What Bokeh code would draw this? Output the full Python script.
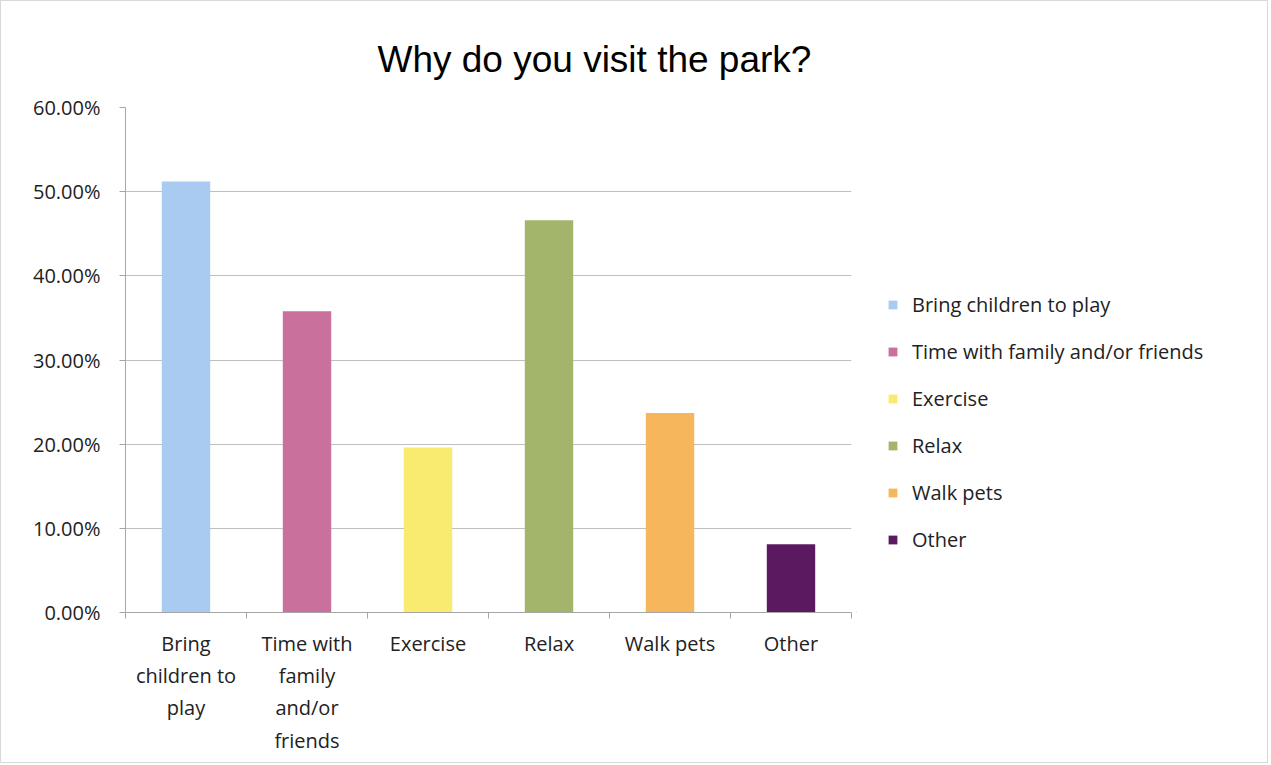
import numpy as np
from bokeh.plotting import figure
from bokeh.layouts import row
from bokeh.models import (ColumnDataSource, Legend, LegendItem, FixedTicker,
                          NumeralTickFormatter, Range1d)
from bokeh.embed import file_html
from bokeh.resources import INLINE

categories = ["Bring children to play", "Time with family and/or friends",
              "Exercise", "Relax", "Walk pets", "Other"]
axis_labels = ["Bring\nchildren to\nplay", "Time with\nfamily\nand/or\nfriends",
               "Exercise", "Relax", "Walk pets", "Other"]
values = [0.512, 0.358, 0.196, 0.466, 0.237, 0.081]
colors = ["#A9CBF1", "#C9719C", "#F8EB6F", "#A3B56B", "#F6B75C", "#5B1A60"]
y_ticks = [0.0, 0.1, 0.2, 0.3, 0.4, 0.5, 0.6]

FONT = "Open Sans"
TXT = "#222222"

n = len(categories)
x = np.arange(n) + 0.5
src = ColumnDataSource(dict(x=x, top=values, color=colors, cat=categories))

H = 761
p = figure(width=855, height=H,
           x_range=Range1d(0, n), y_range=Range1d(0, 0.6),
           output_backend="svg", toolbar_location=None,
           min_border_left=124, min_border_right=5,
           min_border_top=106, min_border_bottom=150)

p.title.text = "Why do you visit the park?"
p.title.text_font = "Liberation Sans"
p.title.text_font_size = "37px"
p.title.text_font_style = "normal"
p.title.text_color = "#000000"
p.title.align = "left"
p.title.offset = 252
p.title.standoff = 55

r = p.vbar(x="x", top="top", width=0.4, bottom=0, fill_color="color",
           line_color=None, source=src)

# x axis: labels at centers, tick marks at category boundaries
p.xaxis.ticker = FixedTicker(ticks=list(x), minor_ticks=list(range(n + 1)))
p.xaxis.major_label_overrides = {float(xx): lab for xx, lab in zip(x, axis_labels)}
p.xaxis.major_tick_out = 0
p.xaxis.major_tick_in = 0
p.xaxis.minor_tick_out = 6
p.xaxis.minor_tick_in = 0
p.xaxis.minor_tick_line_color = "#A6A6A6"
p.xaxis.axis_line_color = "#A6A6A6"
p.xaxis.major_label_text_font = FONT
p.xaxis.major_label_text_font_size = "20px"
p.xaxis.major_label_text_color = TXT
p.xaxis.major_label_text_line_height = 1.2
p.xaxis.major_label_standoff = 11

p.yaxis.ticker = FixedTicker(ticks=y_ticks)
p.yaxis.formatter = NumeralTickFormatter(format="0.00%")
p.yaxis.major_tick_out = 6
p.yaxis.major_tick_in = 0
p.yaxis.minor_tick_out = 0
p.yaxis.minor_tick_in = 0
p.yaxis.major_tick_line_color = "#A6A6A6"
p.yaxis.axis_line_color = "#A6A6A6"
p.yaxis.major_label_text_font = FONT
p.yaxis.major_label_text_font_size = "20px"
p.yaxis.major_label_text_color = TXT
p.yaxis.major_label_standoff = 19

p.xgrid.grid_line_color = None
p.ygrid.ticker = FixedTicker(ticks=y_ticks)
p.ygrid.grid_line_color = "#BFBFBF"
p.outline_line_color = None

# legend panel: a second figure whose frame holds only the legend
q = figure(width=1266 - 855, height=H,
           x_range=Range1d(100, 101), y_range=Range1d(100, 101),
           output_backend="svg", toolbar_location=None,
           min_border_left=0, min_border_right=0,
           min_border_top=0, min_border_bottom=0)
q.axis.visible = False
q.grid.visible = False
q.outline_line_color = None
rq = q.vbar(x="x", top="top", width=0.4, bottom=0, fill_color="color",
            line_color=None, source=src)

items = [LegendItem(label=c, renderers=[rq], index=i) for i, c in enumerate(categories)]
legend = Legend(items=items, location=(31, 59), orientation="vertical")
legend.label_text_font = FONT
legend.label_text_font_size = "20px"
legend.label_text_color = TXT
legend.glyph_width = 11
legend.glyph_height = 11
legend.label_standoff = 14
legend.label_height = 24
legend.spacing = 20
legend.padding = 0
legend.margin = 0
legend.border_line_color = None
legend.background_fill_alpha = 0
q.add_layout(legend)

layout = row(p, q, spacing=0, styles={"border": "1px solid #D9D9D9"})

open("out.html", "w").write(file_html(layout, INLINE))
